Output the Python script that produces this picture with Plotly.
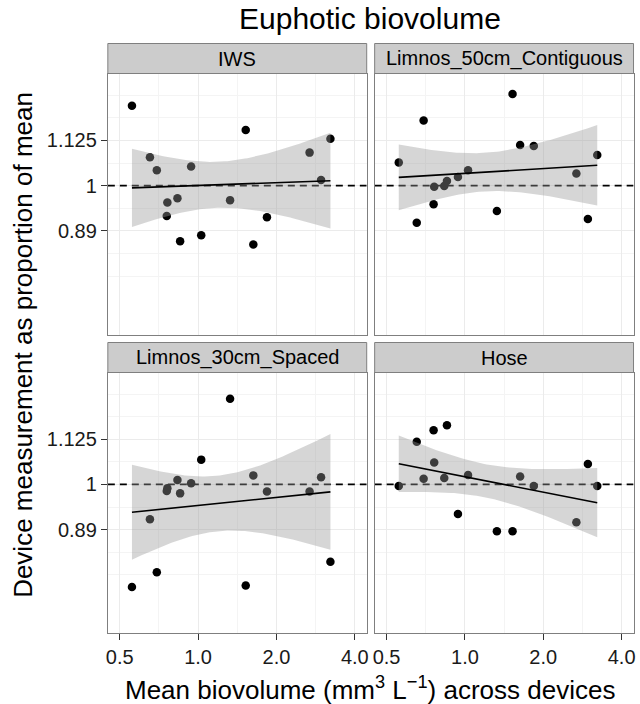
import numpy as np
import plotly.graph_objects as go

# ---------------- data ----------------
devices = ["IWS", "Limnos_50cm_Contiguous", "Limnos_30cm_Spaced", "Hose"]
mean_biovolume = [0.557, 0.653, 0.694, 0.758, 0.762, 0.833, 0.853, 0.940, 1.028,
                  1.327, 1.524, 1.630, 1.839, 2.681, 2.968, 3.224]
iws = [1.232, 1.077, 1.041, 0.924, 0.957, 0.968, 0.865, 1.051, 0.879,
       0.963, 1.156, 0.858, 0.921, 1.090, 1.015, 1.130]
limnos_50 = [1.062, 0.908, 1.185, 0.953, 0.997, 0.999, 1.012, 1.023, 1.041,
             0.936, 1.270, 1.112, 1.109, 1.032, 0.917, 1.083]
limnos_30 = [0.765, 0.913, 0.795, 0.983, 0.990, 1.012, 0.977, 1.003, 1.067,
             1.251, 0.768, 1.024, 0.982, 0.982, 1.019, 0.817]
hose = [0.996, 1.118, 1.015, 1.152, 1.059, 1.017, 1.167, 0.926, 1.025,
        0.885, 0.885, 1.021, 0.996, 0.906, 1.055, 0.996]
series = [iws, limnos_50, limnos_30, hose]
reference_level = 1.0

x_ticks = [0.5, 1.0, 2.0, 4.0]
x_tick_labels = ["0.5", "1.0", "2.0", "4.0"]
y_ticks = [8 / 9, 1.0, 9 / 8]
y_tick_labels = ["0.89", "1", "1.125"]

title = "Euphotic biovolume"
x_title = "Mean biovolume (mm<sup>3</sup> L<sup>\u22121</sup>) across devices"
y_title = "Device measurement as proportion of mean"

# ---------------- layout constants ----------------
W, H = 640, 704
FONT = "Arial, Liberation Sans, sans-serif"
x_range = [-0.3468, 0.6478]      # log10
y_range = [-0.1685, 0.1270]      # log10
T_CRIT = 2.1448                  # t(0.975, df = 14)

col_px = [(106.5, 367.0), (375.0, 635.5)]
row_px = [(73.5, 334.5), (372.5, 633.0)]   # plot area (top, bottom)
strip_h = 30.0


def px_x(p):
    return p / W


def px_y(p):
    return 1 - p / H


def minor_log_breaks(breaks, lo, hi):
    lb = np.log10(breaks)
    d = lb[1] - lb[0]
    ext = list(lb)
    if lo < lb[0]:
        ext = [lb[0] - d] + ext
    if hi > lb[-1]:
        ext = ext + [lb[-1] + d]
    out = []
    for a, b in zip(ext[:-1], ext[1:]):
        out += [a, (a + b) / 2]
    out.append(ext[-1])
    out = [v for v in out if lo <= v <= hi and not np.any(np.isclose(v, lb))]
    return [10 ** v for v in out]


def lm_band(x, y, n=80):
    lx = np.log10(np.asarray(x))
    ly = np.log10(np.asarray(y))
    b, a = np.polyfit(lx, ly, 1)
    res = ly - (a + b * lx)
    s = np.sqrt(np.sum(res ** 2) / (len(lx) - 2))
    xs = np.linspace(lx.min(), lx.max(), n)
    fit = a + b * xs
    se = s * np.sqrt(1 / len(lx) + (xs - lx.mean()) ** 2 / np.sum((lx - lx.mean()) ** 2))
    return 10 ** xs, 10 ** fit, 10 ** (fit - T_CRIT * se), 10 ** (fit + T_CRIT * se)


x_minor = minor_log_breaks(np.array(x_ticks), *x_range)
y_minor = minor_log_breaks(np.array(y_ticks), *y_range)
x_full = [10 ** x_range[0], 10 ** x_range[1]]

fig = go.Figure()
shapes = []
annotations = []

for i, (name, vals) in enumerate(zip(devices, series)):
    r, c = divmod(i, 2)
    k = "" if i == 0 else str(i + 1)
    xa, ya = "x" + k, "y" + k

    fig.add_trace(go.Scatter(x=mean_biovolume, y=vals, mode="markers",
                             marker=dict(color="black", size=8.5, line=dict(width=0)),
                             xaxis=xa, yaxis=ya, showlegend=False, hoverinfo="skip"))
    fig.add_trace(go.Scatter(x=x_full, y=[reference_level] * 2, mode="lines",
                             line=dict(color="black", width=1.7, dash="7px,5px"),
                             xaxis=xa, yaxis=ya, showlegend=False, hoverinfo="skip",
                             cliponaxis=True))
    xs, fit, lo, hi = lm_band(mean_biovolume, vals)
    fig.add_trace(go.Scatter(x=list(xs) + list(xs[::-1]), y=list(hi) + list(lo[::-1]),
                             mode="lines", fill="toself", fillcolor="rgba(153,153,153,0.4)",
                             line=dict(width=0), xaxis=xa, yaxis=ya,
                             showlegend=False, hoverinfo="skip"))
    fig.add_trace(go.Scatter(x=xs, y=fit, mode="lines", line=dict(color="black", width=1.6),
                             xaxis=xa, yaxis=ya, showlegend=False, hoverinfo="skip"))

    x0, x1 = col_px[c]
    top, bot = row_px[r]
    bottom_row = r == 1
    left_col = c == 0
    xaxis = dict(type="log", range=x_range, domain=[px_x(x0), px_x(x1)], anchor=ya,
                 tickmode="array", tickvals=x_ticks, ticktext=x_tick_labels,
                 showticklabels=bottom_row, ticks="outside" if bottom_row else "",
                 ticklen=6, tickwidth=1.3, tickcolor="#333333",
                 tickfont=dict(size=20, color="#1a1a1a", family=FONT),
                 showgrid=True, gridcolor="#EBEBEB", gridwidth=1,
                 minor=dict(tickmode="array", tickvals=x_minor, showgrid=True,
                            gridcolor="#F4F4F4", gridwidth=1.2, ticks=""),
                 showline=True, linecolor="#7F7F7F", linewidth=1, mirror=True,
                 zeroline=False, fixedrange=True)
    yaxis = dict(type="log", range=y_range, domain=[px_y(bot), px_y(top)], anchor=xa,
                 tickmode="array", tickvals=y_ticks, ticktext=y_tick_labels,
                 showticklabels=left_col, ticks="outside" if left_col else "",
                 ticklen=6, tickwidth=1.3, tickcolor="#333333",
                 tickfont=dict(size=20, color="#1a1a1a", family=FONT),
                 showgrid=True, gridcolor="#EBEBEB", gridwidth=1,
                 minor=dict(tickmode="array", tickvals=y_minor, showgrid=True,
                            gridcolor="#F4F4F4", gridwidth=1.2, ticks=""),
                 showline=True, linecolor="#7F7F7F", linewidth=1, mirror=True,
                 zeroline=False, fixedrange=True)
    fig.update_layout({"xaxis" + k: xaxis, "yaxis" + k: yaxis})

    # strip
    shapes.append(dict(type="rect", xref="paper", yref="paper",
                       x0=px_x(x0), x1=px_x(x1), y0=px_y(top), y1=px_y(top - strip_h),
                       fillcolor="#CCCCCC", line=dict(color="#7F7F7F", width=1), layer="above"))
    annotations.append(dict(text=name, xref="paper", yref="paper",
                            x=px_x((x0 + x1) / 2), y=px_y(top - strip_h / 2),
                            xanchor="center", yanchor="middle", showarrow=False,
                            font=dict(size=20, color="black", family=FONT)))

annotations.append(dict(text=title, xref="paper", yref="paper", x=px_x(370), y=px_y(19),
                        xanchor="center", yanchor="middle", showarrow=False,
                        font=dict(size=30, color="black", family=FONT)))
annotations.append(dict(text=x_title, xref="paper", yref="paper", x=px_x(370), y=px_y(688),
                        xanchor="center", yanchor="middle", showarrow=False,
                        font=dict(size=26, color="black", family=FONT)))
annotations.append(dict(text=y_title, xref="paper", yref="paper", x=px_x(21), y=px_y(345),
                        xanchor="center", yanchor="middle", showarrow=False, textangle=-90,
                        font=dict(size=26, color="black", family=FONT)))

fig.update_layout(width=W, height=H, margin=dict(l=0, r=0, t=0, b=0),
                  paper_bgcolor="white", plot_bgcolor="white",
                  shapes=shapes, annotations=annotations, showlegend=False,
                  font=dict(family=FONT))

fig.write_html("out.html")
